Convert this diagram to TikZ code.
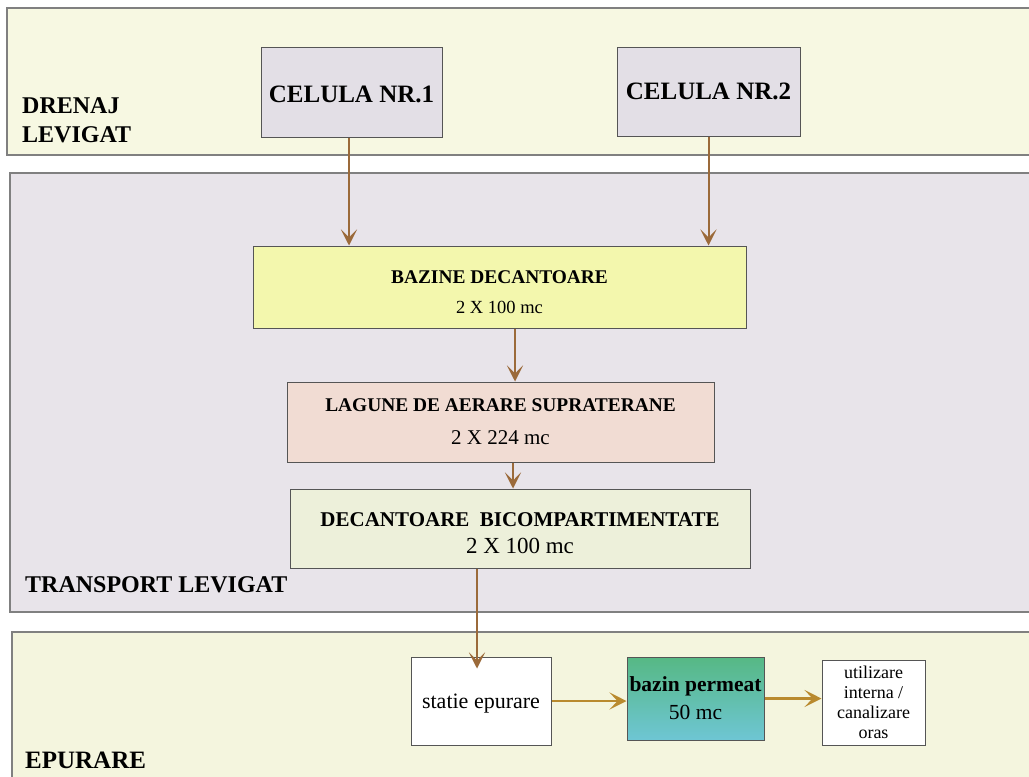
\documentclass[tikz,border=0pt]{standalone}
\usepackage{fontspec}
\setmainfont{Liberation Serif}
\usetikzlibrary{arrows.meta}
\definecolor{topband}{HTML}{F7F8E2}
\definecolor{midband}{HTML}{E8E4EA}
\definecolor{botband}{HTML}{F4F5DE}
\definecolor{bandline}{HTML}{808080}
\definecolor{cellfill}{HTML}{E3DFE6}
\definecolor{bazfill}{HTML}{F3F7AD}
\definecolor{lagfill}{HTML}{F1DCD3}
\definecolor{decfill}{HTML}{EDF0DA}
\definecolor{permtop}{HTML}{56B884}
\definecolor{permbot}{HTML}{6EC6D4}
\definecolor{arrbrown}{HTML}{9B6A3A}
\definecolor{arrgold}{HTML}{B98A2E}
\definecolor{boxline}{HTML}{555555}
\tikzset{
  band/.style={draw=bandline, line width=1.2pt},
  box/.style={draw=boxline, line width=1pt, rectangle, inner sep=0pt, align=center},
  arr/.style={draw=arrbrown, line width=2pt, -{Stealth[length=16pt,width=16pt,inset=8pt]}},
  arrg/.style={draw=arrgold, line width=2.6pt, -{Stealth[length=17pt,width=17pt,inset=8pt]}},
  lbl/.style={anchor=west, inner sep=0pt, font=\bfseries\fontsize{24}{29}\selectfont, align=left}
}
\begin{document}
\begin{tikzpicture}[x=1pt,y=-1pt]
\useasboundingbox (0,0) rectangle (1029,777);
\fill[white] (0,0) rectangle (1029,777);
% bands
\draw[band, fill=topband] (7,8) rectangle (1040,155);
\draw[band, fill=midband] (10,173) rectangle (1040,612);
\draw[band, fill=botband] (12,632) rectangle (1040,795);
% band labels
\node[lbl] (ldren) at (22,120) {DRENAJ\\LEVIGAT};
\node[lbl] (ltrans) at (25,585) {TRANSPORT LEVIGAT};
\node[lbl, font=\bfseries\fontsize{25}{30}\selectfont] (lepur) at (25,760) {EPURARE};
% nodes
\node[box, fill=cellfill, minimum width=181pt, minimum height=90pt, font=\bfseries\fontsize{25}{30}\selectfont] (c1) at (351.5,92) {\rule{0pt}{21pt}CELULA NR.1};
\node[box, fill=cellfill, minimum width=183pt, minimum height=89pt, font=\bfseries\fontsize{25}{30}\selectfont] (c2) at (708.5,91.5) {CELULA NR.2};
\node[box, fill=bazfill, minimum width=493pt, minimum height=82pt, font=\fontsize{18.5}{30}\selectfont] (baz) at (499.5,287) {\rule{0pt}{24pt}\textbf{\fontsize{19.4}{30}\selectfont BAZINE DECANTOARE}\\2 X 100 mc};
\node[box, fill=lagfill, minimum width=427pt, minimum height=80pt, font=\fontsize{21}{33}\selectfont] (lag) at (500.5,422) {\textbf{\fontsize{19.4}{33}\selectfont LAGUNE DE AERARE SUPRATERANE}\\2 X 224 mc};
\node[box, fill=decfill, minimum width=460pt, minimum height=79pt, font=\fontsize{23}{27}\selectfont] (dec) at (520,528.5) {\rule{0pt}{24pt}\textbf{\fontsize{21}{27}\selectfont DECANTOARE\ \ BICOMPARTIMENTATE}\\2 X 100 mc};
\node[box, fill=white, minimum width=140pt, minimum height=88pt, font=\fontsize{22}{26}\selectfont] (statie) at (481,701) {\rule{0pt}{20pt}statie epurare};
\node[box, top color=permtop, bottom color=permbot, minimum width=137pt, minimum height=83pt, font=\fontsize{21.5}{28}\selectfont] (perm) at (695.5,698.5) {\textbf{bazin permeat}\\50 mc};
\node[box, fill=white, minimum width=103pt, minimum height=85pt, font=\fontsize{18}{20}\selectfont] (util) at (873.5,702.5) {utilizare\\interna /\\canalizare\\oras};
% connectors
\draw[arr] ([xshift=-2.5pt]c1.south) -- ([xshift=-2.5pt]c1.south |- baz.north);
\draw[arr] (c2.south) -- (c2.south |- baz.north);
\draw[arr] ([xshift=15.5pt]baz.south) -- ([xshift=15.5pt]baz.south |- lag.north);
\draw[arr] ([xshift=12.5pt]lag.south) -- ([xshift=12.5pt]lag.south |- dec.north);
\coordinate (stin) at ([xshift=-4pt,yshift=-12pt]statie.north);
\draw[arr] (stin |- dec.south) -- (stin);
\draw[arrg] (statie.east) -- (statie.east -| perm.west);
\draw[arrg] (perm.east) -- (perm.east -| util.west);
\end{tikzpicture}
\end{document}
